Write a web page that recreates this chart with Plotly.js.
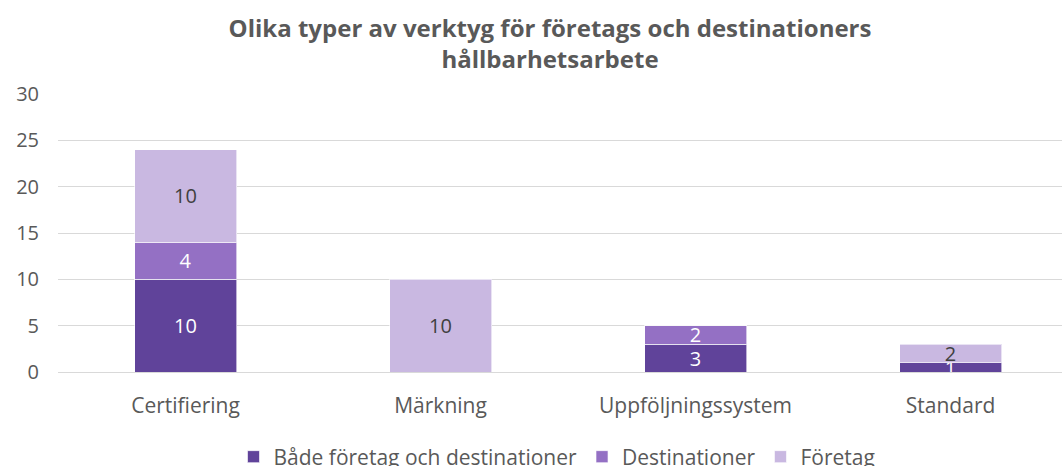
<!DOCTYPE html>
<html><head><meta charset="utf-8">
<script src="https://cdn.plot.ly/plotly-3.0.1.min.js"></script>
<style>html,body{margin:0;padding:0;background:#fff}#chart{width:1062px;height:466px}</style>
</head><body><div id="chart"></div>
<script>
const categories = ["Certifiering", "Märkning", "Uppföljningssystem", "Standard"];
const seriesNames = ["Både företag och destinationer", "Destinationer", "Företag"];
const bothValues = [10, 0, 3, 1];
const destValues = [4, 0, 2, 0];
const companyValues = [10, 10, 0, 2];
const yTicks = [0, 5, 10, 15, 20, 25, 30];

const colors = ["#60439a", "#9470c4", "#c9b8e1"];
const textColors = ["#ffffff", "#ffffff", "#404040"];
const FONT = "'Open Sans', sans-serif";
const allValues = [bothValues, destValues, companyValues];

const traces = allValues.map((vals, i) => ({
  type: "bar",
  name: seriesNames[i],
  x: categories,
  y: vals,
  text: vals.map(v => v > 0 ? String(v) : ""),
  textposition: "inside",
  insidetextanchor: "middle",
  textangle: 0,
  constraintext: "none",
  textfont: {family: FONT, size: 20, color: textColors[i]},
  marker: {color: colors[i], line: {color: "rgba(255,255,255,0.6)", width: 1}},
  hoverinfo: "x+y+name"
}));

const layout = {
  width: 1062, height: 466,
  margin: {l: 58, r: 0, t: 94, b: 94, autoexpand: false},
  barmode: "stack",
  bargap: 0.6,
  paper_bgcolor: "#fff", plot_bgcolor: "#fff",
  font: {family: FONT, color: "#595959", size: 21},
  title: {
    text: "<b>Olika typer av verktyg för företags och destinationers<br>hållbarhetsarbete</b>",
    font: {family: FONT, size: 24, color: "#595959"},
    x: 550 / 1062, xref: "container", xanchor: "center",
    y: 1 - 37 / 466, yref: "container", yanchor: "middle"
  },
  xaxis: {
    range: [-0.5, 3.437],
    showgrid: false, showline: false, zeroline: false,
    ticks: "", ticklabelstandoff: 19,
    tickfont: {family: FONT, size: 21, color: "#595959"},
    automargin: false, fixedrange: true
  },
  yaxis: {
    range: [0, 30], tickvals: yTicks, ticktext: yTicks.map(String),
    showgrid: true, gridcolor: "#d9d9d9", gridwidth: 1,
    zeroline: true, zerolinecolor: "#d9d9d9", zerolinewidth: 1,
    showline: false, ticks: "", ticklabelstandoff: 18,
    tickfont: {family: FONT, size: 20, color: "#595959"},
    automargin: false, fixedrange: true
  },
  showlegend: true,
  legend: {
    orientation: "h", xref: "container", x: 557 / 1062, xanchor: "center",
    yref: "container", y: 9 / 466, yanchor: "middle",
    font: {family: FONT, size: 21, color: "#595959"},
    itemwidth: 30, tracegroupgap: 0, traceorder: "normal"
  }
};

Plotly.newPlot("chart", traces, layout, {displayModeBar: false, staticPlot: true});
</script>
</body></html>
